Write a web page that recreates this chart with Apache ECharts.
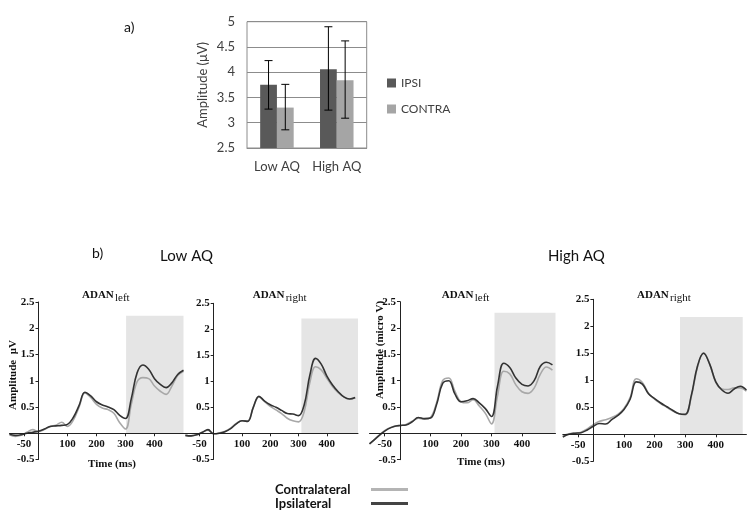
<!DOCTYPE html>
<html>
<head>
<meta charset="utf-8">
<script src="https://cdn.jsdelivr.net/npm/echarts@6/dist/echarts.min.js"></script>
<style>
html, body { margin: 0; padding: 0; background: #fff; }
#chart { width: 754px; height: 519px; }
</style>
</head>
<body>
<div id="chart"></div>
<script>
// a) bar chart
const groups = ['Low AQ', 'High AQ']
const ipsiMean = [3.75, 4.06]
const ipsiErr = [[3.27, 4.23], [3.25, 4.9]]
const contraMean = [3.3, 3.84]
const contraErr = [[2.86, 3.76], [3.09, 4.62]]

// b) ERP waveforms, amplitude per time point (ms)
const times = [-100, -80, -60, -40, -20, 0, 20, 40, 60, 80, 100, 120, 140, 160, 180, 200,
  220, 240, 260, 280, 300, 320, 340, 360, 380, 400, 420, 440, 460, 480, 500]
const lowLeftIpsi = [-0.02, -0.04, -0.03, 0.0, 0.02, 0.04, 0.08, 0.13, 0.14, 0.15, 0.17, 0.3, 0.53, 0.78, 0.71, 0.6,
  0.54, 0.5, 0.45, 0.34, 0.28, 0.66, 1.15, 1.3, 1.22, 1.04, 0.93, 0.87, 0.96, 1.12, 1.2]
const lowLeftContra = [-0.03, -0.06, -0.04, 0.02, 0.07, 0.03, 0.07, 0.13, 0.15, 0.21, 0.13, 0.25, 0.5, 0.77, 0.68, 0.55,
  0.48, 0.45, 0.38, 0.2, 0.08, 0.55, 0.98, 1.06, 1.04, 0.9, 0.8, 0.74, 0.9, 1.1, 1.18]
const lowRightIpsi = [-0.04, -0.05, -0.03, 0.02, 0.07, -0.01, 0.0, 0.03, 0.09, 0.18, 0.24, 0.23, 0.5, 0.71, 0.62, 0.55,
  0.5, 0.44, 0.38, 0.37, 0.34, 0.55, 1.12, 1.44, 1.33, 1.1, 0.93, 0.8, 0.7, 0.66, 0.69]
const lowRightContra = [-0.04, -0.05, -0.03, 0.02, 0.06, -0.01, 0.01, 0.04, 0.1, 0.19, 0.24, 0.24, 0.5, 0.7, 0.61, 0.52,
  0.45, 0.38, 0.29, 0.24, 0.22, 0.42, 0.98, 1.28, 1.22, 1.06, 0.9, 0.78, 0.7, 0.66, 0.68]
const highLeftIpsi = [-0.2, -0.1, 0.0, 0.08, 0.13, 0.15, 0.16, 0.22, 0.3, 0.28, 0.29, 0.55, 0.95, 1.0, 0.75, 0.6,
  0.62, 0.66, 0.58, 0.47, 0.32, 0.9, 1.33, 1.25, 1.05, 0.93, 0.9, 1.0, 1.27, 1.35, 1.3]
const highLeftContra = [-0.2, -0.1, 0.01, 0.09, 0.13, 0.15, 0.17, 0.23, 0.29, 0.27, 0.3, 0.58, 1.0, 1.05, 0.8, 0.6,
  0.58, 0.64, 0.52, 0.38, 0.18, 0.72, 1.18, 1.13, 0.92, 0.79, 0.76, 0.86, 1.12, 1.26, 1.2]
const highRightIpsi = [-0.05, 0.0, 0.02, 0.03, 0.08, 0.15, 0.2, 0.19, 0.27, 0.35, 0.46, 0.65, 0.97, 0.93, 0.75, 0.66,
  0.58, 0.51, 0.44, 0.38, 0.37, 0.72, 1.26, 1.5, 1.3, 0.97, 0.82, 0.76, 0.84, 0.89, 0.82]
const highRightContra = [-0.03, 0.01, 0.02, 0.04, 0.1, 0.18, 0.24, 0.27, 0.31, 0.37, 0.48, 0.68, 1.03, 0.96, 0.76, 0.65,
  0.57, 0.5, 0.43, 0.38, 0.36, 0.7, 1.24, 1.51, 1.3, 0.96, 0.84, 0.83, 0.86, 0.86, 0.8]

const panelSides = ['left', 'right', 'left', 'right']
// shaded analysis window per panel: start ms, end ms, top µV
const shadeStart = [302, 310, 310, 283]
const shadeEnd = [500, 510, 510, 488]
const shadeTop = [2.24, 2.21, 2.29, 2.17]
const timeTicks = [-50, 100, 200, 300, 400]

const ipsiData = [lowLeftIpsi, lowRightIpsi, highLeftIpsi, highRightIpsi]
const contraData = [lowLeftContra, lowRightContra, highLeftContra, highRightContra]

// layout of the four small panels
const panelBoxes = [
  { left: 9.5, top: 302, width: 174, height: 157.5, min: -100, max: 500 },
  { left: 179.7, top: 303.3, width: 178.3, height: 156, min: -120, max: 510 },
  { left: 369.5, top: 301.7, width: 186, height: 158, min: -100, max: 510 },
  { left: 562.8, top: 299.3, width: 183.6, height: 162, min: -100, max: 500 }
]
const ampMin = -0.5
const ampMax = 2.5

const serif = 'Liberation Serif'
const sans = 'Lato'

const chart = echarts.init(document.getElementById('chart'))

const grid = [{ left: 247, top: 21.7, width: 119.7, height: 126.3, show: true, borderColor: '#8c8c8c', borderWidth: 1, outerBoundsMode: 'none' }]
const xAxis = [{
  type: 'category', gridIndex: 0, data: groups,
  axisLine: { lineStyle: { color: '#8c8c8c' } },
  axisTick: { length: 4, lineStyle: { color: '#8c8c8c' } },
  axisLabel: { interval: 0, color: '#404040', fontFamily: sans, fontSize: 13, margin: 12 }
}]
const yAxis = [{
  type: 'value', gridIndex: 0, min: 2.5, max: 5, interval: 0.5,
  name: 'Amplitude (μV)', nameLocation: 'middle', nameGap: 38,
  nameTextStyle: { color: '#404040', fontFamily: sans, fontSize: 13 },
  axisLine: { show: false }, axisTick: { show: false },
  splitLine: { lineStyle: { color: '#8c8c8c' } },
  axisLabel: { color: '#404040', fontFamily: sans, fontSize: 13, margin: 12 }
}]

const errorBar = (sign) => (params, api) => {
  const cat = api.value(0)
  const lo = api.coord([cat, api.value(1)])
  const hi = api.coord([cat, api.value(2)])
  const x = lo[0] + sign * api.size([1, 0])[0] * 0.14
  const style = { stroke: '#000', lineWidth: 1 }
  return {
    type: 'group',
    children: [
      { type: 'line', shape: { x1: x, y1: lo[1], x2: x, y2: hi[1] }, style },
      { type: 'line', shape: { x1: x - 4, y1: lo[1], x2: x + 4, y2: lo[1] }, style },
      { type: 'line', shape: { x1: x - 4, y1: hi[1], x2: x + 4, y2: hi[1] }, style }
    ]
  }
}

const shadeRect = (params, api) => {
  const p1 = api.coord([api.value(0), api.value(2)])
  const p2 = api.coord([api.value(1), 0])
  return {
    type: 'rect',
    shape: { x: p1[0], y: p1[1], width: p2[0] - p1[0], height: p2[1] - p1[1] },
    style: { fill: '#e5e5e5' }
  }
}

const series = [
  { name: 'IPSI', type: 'bar', xAxisIndex: 0, yAxisIndex: 0, data: ipsiMean, barWidth: '28%', barGap: '0%', itemStyle: { color: '#595959' } },
  { name: 'CONTRA', type: 'bar', xAxisIndex: 0, yAxisIndex: 0, data: contraMean, barWidth: '28%', barGap: '0%', itemStyle: { color: '#a5a5a5' } },
  { type: 'custom', xAxisIndex: 0, yAxisIndex: 0, renderItem: errorBar(-1), z: 5,
    data: ipsiErr.map((e, i) => [i, e[0], e[1]]), encode: { x: 0, y: [1, 2] } },
  { type: 'custom', xAxisIndex: 0, yAxisIndex: 0, renderItem: errorBar(1), z: 5,
    data: contraErr.map((e, i) => [i, e[0], e[1]]), encode: { x: 0, y: [1, 2] } }
]

const graphic = []

panelBoxes.forEach((b, i) => {
  const k = i + 1
  // place the axes on the zero lines by shifting them into the grid
  const xZero = (0 - b.min) / (b.max - b.min) * b.width
  const yZero = (0 - ampMin) / (ampMax - ampMin) * b.height
  grid.push({ left: b.left, top: b.top, width: b.width, height: b.height, outerBoundsMode: 'none' })
  xAxis.push({
    type: 'value', gridIndex: k, min: b.min, max: b.max, position: 'bottom', offset: -yZero, z: 5,
    splitLine: { show: false },
    axisLine: { onZero: false, lineStyle: { color: '#222', width: 1 } },
    axisTick: { length: 3, customValues: timeTicks, lineStyle: { color: '#222' } },
    axisLabel: { customValues: timeTicks, hideOverlap: false, color: '#111', fontFamily: serif, fontWeight: 'bold', fontSize: 11, margin: 5 }
  })
  yAxis.push({
    type: 'value', gridIndex: k, min: ampMin, max: ampMax, interval: 0.5, position: 'left', offset: -xZero, z: 5,
    splitLine: { show: false },
    axisLine: { show: true, onZero: false, lineStyle: { color: '#222', width: 1 } },
    axisTick: { show: true, length: 3, lineStyle: { color: '#222' } },
    axisLabel: {
      color: '#111', fontFamily: serif, fontWeight: 'bold', fontSize: 11, margin: 4,
      formatter: v => (v === 0 ? '' : String(v))
    }
  })
  series.push({
    type: 'custom', xAxisIndex: k, yAxisIndex: k, z: 1, silent: true, clip: false,
    renderItem: shadeRect,
    data: [[shadeStart[i], shadeEnd[i], shadeTop[i]]],
    encode: { x: [0, 1], y: 2 }
  })
  const pts = (arr) => times.map((t, j) => [t, arr[j]])
  series.push({
    name: 'Contralateral', type: 'line', xAxisIndex: k, yAxisIndex: k, data: pts(contraData[i]),
    smooth: 0.4, showSymbol: false, lineStyle: { color: '#a8a8a8', width: 1.6 }, itemStyle: { color: '#b4b4b4' }
  })
  series.push({
    name: 'Ipsilateral', type: 'line', xAxisIndex: k, yAxisIndex: k, data: pts(ipsiData[i]),
    smooth: 0.4, showSymbol: false, lineStyle: { color: '#333', width: 1.6 }, itemStyle: { color: '#444' }
  })
})

// panel titles and axis names
const titleX = [82, 252.7, 441.7, 637]
panelSides.forEach((s, i) => {
  graphic.push({ type: 'text', x: titleX[i], y: 290, style: { text: 'ADAN', font: 'bold 11px "Liberation Serif"', fill: '#111' } })
  graphic.push({ type: 'text', x: titleX[i] + 33, y: 293, style: { text: s, font: '11px "Liberation Serif"', fill: '#111' } })
})
graphic.push(
  { type: 'text', x: 13, y: 375, rotation: Math.PI / 2, style: { text: 'Amplitude  μV', font: 'bold 11px "Liberation Serif"', fill: '#111', align: 'center', verticalAlign: 'middle' } },
  { type: 'text', x: 380, y: 350, rotation: Math.PI / 2, style: { text: 'Amplitude (micro V)', font: 'bold 11px "Liberation Serif"', fill: '#111', align: 'center', verticalAlign: 'middle' } },
  { type: 'text', x: 112, y: 464, style: { text: 'Time (ms)', font: 'bold 11px "Liberation Serif"', fill: '#111', align: 'center', verticalAlign: 'middle' } },
  { type: 'text', x: 481, y: 462, style: { text: 'Time (ms)', font: 'bold 11px "Liberation Serif"', fill: '#111', align: 'center', verticalAlign: 'middle' } },
  { type: 'text', x: 124, y: 20, style: { text: 'a)', font: '14px Lato', fill: '#111' } },
  { type: 'text', x: 92, y: 246, style: { text: 'b)', font: '14px Lato', fill: '#111' } },
  { type: 'text', x: 160, y: 249, style: { text: 'Low AQ', font: '15px Lato', fill: '#111' } },
  { type: 'text', x: 548, y: 249, style: { text: 'High AQ', font: '15px Lato', fill: '#111' } }
)

const option = {
  animation: false,
  grid, xAxis, yAxis, series, graphic,
  legend: [
    {
      data: ['IPSI', 'CONTRA'], orient: 'vertical', left: 382, top: 72,
      icon: 'rect', itemWidth: 9, itemHeight: 9, itemGap: 14,
      textStyle: { color: '#404040', fontFamily: sans, fontSize: 12 }
    },
    {
      data: ['Contralateral', 'Ipsilateral'], orient: 'vertical', left: 270, top: 478,
      align: 'right', icon: 'rect', itemWidth: 37, itemHeight: 3, itemGap: 1,
      formatter: '{t|{name}}',
      textStyle: {
        rich: { t: { width: 91, align: 'left', color: '#111', fontFamily: sans, fontWeight: 'bold', fontSize: 13 } }
      }
    }
  ]
}
chart.setOption(option)
</script>
</body>
</html>
